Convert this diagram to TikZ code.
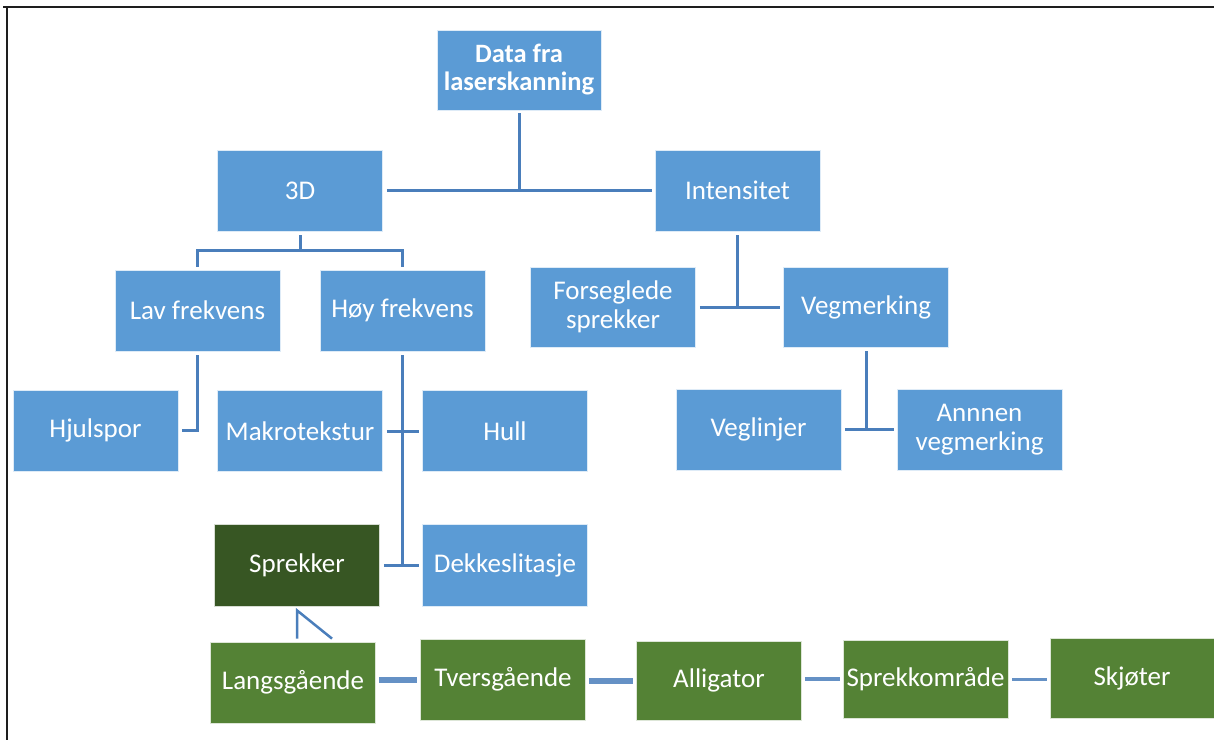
\documentclass[tikz,border=0pt]{standalone}
\usepackage{fontspec}
\setmainfont{Carlito}
\usetikzlibrary{calc}
\definecolor{boxblue}{RGB}{91,155,213}
\definecolor{lineblue}{RGB}{74,126,187}
\definecolor{boxgreen}{RGB}{84,130,53}
\definecolor{darkgreen}{RGB}{55,86,35}
\definecolor{framegray}{RGB}{30,30,30}
\begin{document}
\begin{tikzpicture}[x=1pt,y=-1pt,
  box/.style={fill=boxblue, draw=white!80!boxblue, line width=0.8pt, text=white,
    align=center, inner sep=0pt, minimum width=165pt, minimum height=81pt,
    font=\fontsize{27}{29}\selectfont},
  gbox/.style={box, fill=boxgreen, draw=white!80!boxgreen},
  dgbox/.style={box, fill=darkgreen, draw=white!80!darkgreen},
  conn/.style={draw=lineblue, line width=3pt},
  bconn/.style={draw=lineblue!85!white, line width=#1},
  frame/.style={draw=framegray, line width=2pt}]
\useasboundingbox (0,0) rectangle (1214,740);
% frame lines
\draw[frame] (3,7) -- (1214,7);
\draw[frame] (7,7) -- (7,740);
% nodes
\node[box, font=\bfseries\fontsize{26.5}{28}\selectfont, minimum width=164pt, minimum height=80pt] (data) at (519,70) {Data fra\\laserskanning};
\node[box] (d3) at (300,190.5) {3D};
\node[box] (int) at (737.5,190.5) {Intensitet};
\node[box] (lav) at (197.5,310.5) {Lav frekvens};
\node[box] (hoy) at (402.5,310.5) {Høy frekvens};
\node[box, minimum height=80pt] (fors) at (613,307) {Forseglede\\sprekker};
\node[box, minimum height=80pt] (vegm) at (866,307) {Vegmerking};
\node[box] (hjul) at (95.5,430.5) {Hjulspor};
\node[box] (makro) at (300,431) {Makrotekstur};
\node[box] (hull) at (505,431) {Hull};
\node[box] (vegl) at (758.5,429.5) {Veglinjer};
\node[box] (annen) at (979.5,429.5) {Annnen\\vegmerking};
\node[dgbox, minimum height=82pt] (sprekker) at (297,565) {Sprekker};
\node[box, minimum height=82pt] (dekk) at (505,565) {Dekkeslitasje};
\node[gbox] (langs) at (293,682.5) {Langsgående};
\node[gbox] (tvers) at (503,679.5) {Tversgående};
\node[gbox, minimum height=79pt] (alli) at (719,680.5) {Alligator};
\node[gbox, minimum height=78pt] (sprekko) at (925.5,679) {Sprekkområde};
\node[gbox, minimum width=164pt, minimum height=80pt] (skjot) at (1132,678) {Skjøter};
% connectors: data -> 3D / Intensitet
\draw[conn] ([xshift=4pt]d3.east) -- ([xshift=-3pt]int.west);
\draw[conn] ([yshift=-3pt]data.south) -- (data.south |- d3.east);
% 3D -> Lav / Hoy
\coordinate (b3) at ($(d3.south)+(0,19)$);
\draw[conn] ([yshift=-4pt]d3.south) -- (b3);
\draw[conn] ([yshift=3pt]lav.north) |- (b3) -| ([yshift=3pt]hoy.north);
% Lav -> Hjulspor
\draw[conn] ([yshift=-4pt]lav.south) |- ([xshift=4pt]hjul.east);
% Hoy -> Makro, Hull, Sprekker, Dekk
\draw[conn] ([yshift=-4pt]hoy.south) -- (hoy.south |- dekk.west);
\draw[conn] ([xshift=4pt]makro.east) -- ([xshift=-3pt]hull.west);
\draw[conn] ([xshift=4pt]sprekker.east) -- ([xshift=-3pt]dekk.west);
% Intensitet -> Forseglede, Vegmerking
\draw[conn] ([yshift=-4pt]int.south) -- (int.south |- fors.east);
\draw[conn] ([xshift=4pt]fors.east) -- ([xshift=-3pt]vegm.west);
% Vegmerking -> Veglinjer, Annen
\draw[conn] ([yshift=-4pt]vegm.south) -- (vegm.south |- vegl.east);
\draw[conn] ([xshift=4pt]vegl.east) -- ([xshift=-3pt]annen.west);
% Sprekker -> Langsgaende
\draw[conn, line width=2.5pt] ($(langs.north)+(4,-3)$) -- ([yshift=-4pt]sprekker.south) -- ($(langs.north)+(39,-3)$);
% bottom row
\draw[bconn=6pt] ($(tvers.west -| langs.east)+(3,0)$) -- ([xshift=-3pt]tvers.west);
\draw[bconn=6pt] ($(alli.west -| tvers.east)+(3,0)$) -- ([xshift=-3pt]alli.west);
\draw[bconn=4pt] ($(sprekko.west -| alli.east)+(3,0)$) -- ([xshift=-3pt]sprekko.west);
\draw[bconn=3pt] ($(sprekko.east)+(4,0)$) -- ($(sprekko.east -| skjot.west)+(-3,0)$);
\end{tikzpicture}
\end{document}
